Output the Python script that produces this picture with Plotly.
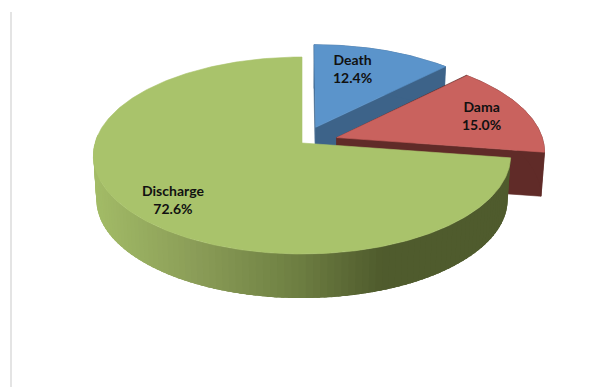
import numpy as np
import plotly.graph_objects as go

categories = ["Death", "Dama", "Discharge"]
values = [12.4, 15.0, 72.6]
top_colors = ["#5B94CB", "#C9625E", "#A9C36B"]
side_colors = ["#3D6389", "#602B28", "#4F5B2D"]
explode = [0.178, 0.178, 0.0]
label_xy = [(352, 68.5), (481, 115), (173, 199.5)]

W, H = 601, 387
CX = 302
TOP = dict(rx=207, ry=96.9, cy=143)
BASE = dict(rx=204, ry=97, cy=187)
K = 0.127


def project(u, v, f):
    w = 1 / (1 + K * np.asarray(v))
    return CX + f["rx"] * np.asarray(u) * w, f["cy"] - f["ry"] * np.asarray(v) * w


def rim_color(x):
    xs = [93, 200, 300, 385, 520]
    rs = [(163, 188, 103), (138, 156, 87), (110, 127, 66), (79, 91, 45), (79, 91, 45)]
    c = [np.interp(x, xs, [r[i] for r in rs]) for i in range(3)]
    return f"rgb({c[0]:.0f},{c[1]:.0f},{c[2]:.0f})"


def poly(fig, x, y, color, lw=0.6):
    fig.add_trace(go.Scatter(x=list(x), y=list(y), mode="lines", fill="toself",
                             fillcolor=color, line=dict(color=color, width=lw),
                             hoverinfo="skip", showlegend=False))


fig = go.Figure()
start = 0.0
total = sum(values)
for name, val, tc, sc, d in zip(categories, values, top_colors, side_colors, explode):
    a0 = start / total * 2 * np.pi
    a1 = (start + val) / total * 2 * np.pi
    start += val
    mid = (a0 + a1) / 2
    u0, v0 = d * np.sin(mid), d * np.cos(mid)
    th = np.linspace(a0, a1, 300)
    u, v = u0 + np.sin(th), v0 + np.cos(th)
    tx, ty = project(u, v, TOP)
    bx, by = project(u, v, BASE)
    ax, ay = project(u0, v0, TOP)
    abx, aby = project(u0, v0, BASE)
    if d > 0:
        # radial cut faces, then the rim
        for i in (0, -1):
            poly(fig, [ax, tx[i], bx[i], abx, ax], [ay, ty[i], by[i], aby, ay], sc)
        poly(fig, list(tx) + list(bx[::-1]) + [tx[0]], list(ty) + list(by[::-1]) + [ty[0]], sc)
    else:
        # shaded front rim, painted from the dark right end to the light left end;
        # each band runs back over the previous one, so no seams appear
        last = int(np.searchsorted(th, np.radians(275)))
        idx = list(range(0, last, 2))
        for n, i in enumerate(idx):
            j = min(i + 5, last)
            poly(fig, [tx[i], tx[j], bx[j], bx[i], tx[i]], [ty[i], ty[j], by[j], by[i], ty[i]],
                 rim_color(tx[i]), lw=0)
    poly(fig, [ax] + list(tx) + [ax], [ay] + list(ty) + [ay], tc)

for name, val, (lx, ly) in zip(categories, values, label_xy):
    fig.add_annotation(x=lx, y=ly, text=f"<b>{name}<br>{val:.1f}%</b>", showarrow=False,
                       font=dict(family="Lato", size=14, color="#111111"),
                       xanchor="center", yanchor="middle", align="center")

# faint frame line at the left of the picture
fig.add_shape(type="line", x0=11, x1=11, y0=12, y1=H, line=dict(color="#E4E4E4", width=2))

fig.update_layout(width=W, height=H, margin=dict(l=0, r=0, t=0, b=0),
                  paper_bgcolor="white", plot_bgcolor="white", showlegend=False,
                  xaxis=dict(range=[0, W], visible=False, fixedrange=True),
                  yaxis=dict(range=[H, 0], visible=False, fixedrange=True))
fig.write_html("out.html", config={"displayModeBar": False},
               post_script="document.body.style.margin='0';document.body.style.overflow='hidden';")
